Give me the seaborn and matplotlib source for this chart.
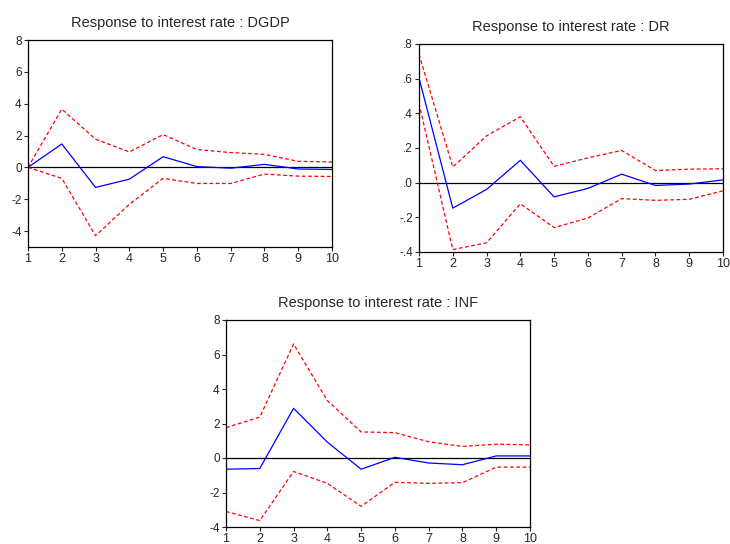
import matplotlib
matplotlib.use("Agg")
import matplotlib.pyplot as plt
import seaborn as sns
import numpy as np

periods = [1, 2, 3, 4, 5, 6, 7, 8, 9, 10]

dgdp_resp = [0.0, 1.47, -1.26, -0.74, 0.67, 0.05, -0.05, 0.19, -0.10, -0.13]
dgdp_upper = [0.0, 3.66, 1.77, 0.97, 2.06, 1.12, 0.93, 0.82, 0.38, 0.34]
dgdp_lower = [0.0, -0.69, -4.29, -2.32, -0.69, -1.01, -1.01, -0.42, -0.55, -0.57]

dr_resp = [0.604, -0.147, -0.039, 0.129, -0.082, -0.033, 0.049, -0.016, -0.008, 0.016]
dr_upper = [0.741, 0.090, 0.270, 0.380, 0.094, 0.143, 0.186, 0.070, 0.078, 0.080]
dr_lower = [0.457, -0.386, -0.347, -0.122, -0.259, -0.204, -0.092, -0.102, -0.096, -0.047]

inf_resp = [-0.65, -0.61, 2.88, 0.92, -0.65, 0.04, -0.29, -0.39, 0.12, 0.12]
inf_upper = [1.76, 2.37, 6.61, 3.33, 1.51, 1.47, 0.94, 0.67, 0.80, 0.76]
inf_lower = [-3.10, -3.63, -0.78, -1.47, -2.80, -1.41, -1.47, -1.43, -0.53, -0.53]

titles = ["Response to interest rate : DGDP",
          "Response to interest rate : DR",
          "Response to interest rate : INF"]
yticks_num = [[8, 6, 4, 2, 0, -2, -4],
              [0.8, 0.6, 0.4, 0.2, 0.0, -0.2, -0.4],
              [8, 6, 4, 2, 0, -2, -4]]
yticks_lab = [["8", "6", "4", "2", "0", "-2", "-4"],
              [".8", ".6", ".4", ".2", ".0", "-.2", "-.4"],
              ["8", "6", "4", "2", "0", "-2", "-4"]]
ylims = [(-5, 8), (-0.4, 0.8), (-4, 8)]

sns.set_style("ticks")
plt.rcParams['font.family'] = ['Liberation Sans', 'DejaVu Sans']

fig = plt.figure(figsize=(7.3, 5.44), dpi=100)
W, H = 730.0, 544.0
boxes = [(28, 40, 332, 247), (419, 44, 723, 252), (226, 320, 530, 527)]
series = [(dgdp_resp, dgdp_upper, dgdp_lower),
          (dr_resp, dr_upper, dr_lower),
          (inf_resp, inf_upper, inf_lower)]

for i, (l, t, r, b) in enumerate(boxes):
    ax = fig.add_axes([l / W, (H - b) / H, (r - l) / W, (b - t) / H])
    resp, up, lo = series[i]
    ax.axhline(0, color="black", lw=0.9, zorder=1)
    sns.lineplot(x=periods, y=up, ax=ax, color="red", lw=0.9, linestyle=(0, (3, 2)))
    sns.lineplot(x=periods, y=lo, ax=ax, color="red", lw=0.9, linestyle=(0, (3, 2)))
    sns.lineplot(x=periods, y=resp, ax=ax, color="blue", lw=0.9)
    ax.set_xlim(1, 10)
    ax.set_ylim(*ylims[i])
    ax.set_xticks(periods)
    ax.set_xticklabels([str(p) for p in periods])
    ax.set_yticks(yticks_num[i])
    ax.set_yticklabels(yticks_lab[i])
    ax.tick_params(axis="both", length=3, width=0.8, pad=1.5, direction="out")
    ax.tick_params(axis="x", labelsize=9)
    ax.tick_params(axis="y", labelsize=8.5)
    for s in ax.spines.values():
        s.set_visible(True)
        s.set_linewidth(0.9)
        s.set_color("black")
    ax.set_xlabel("")
    ax.set_ylabel("")
    ax.set_title(titles[i], fontsize=10.5, pad=9)

fig.savefig("out.png", dpi=100)
